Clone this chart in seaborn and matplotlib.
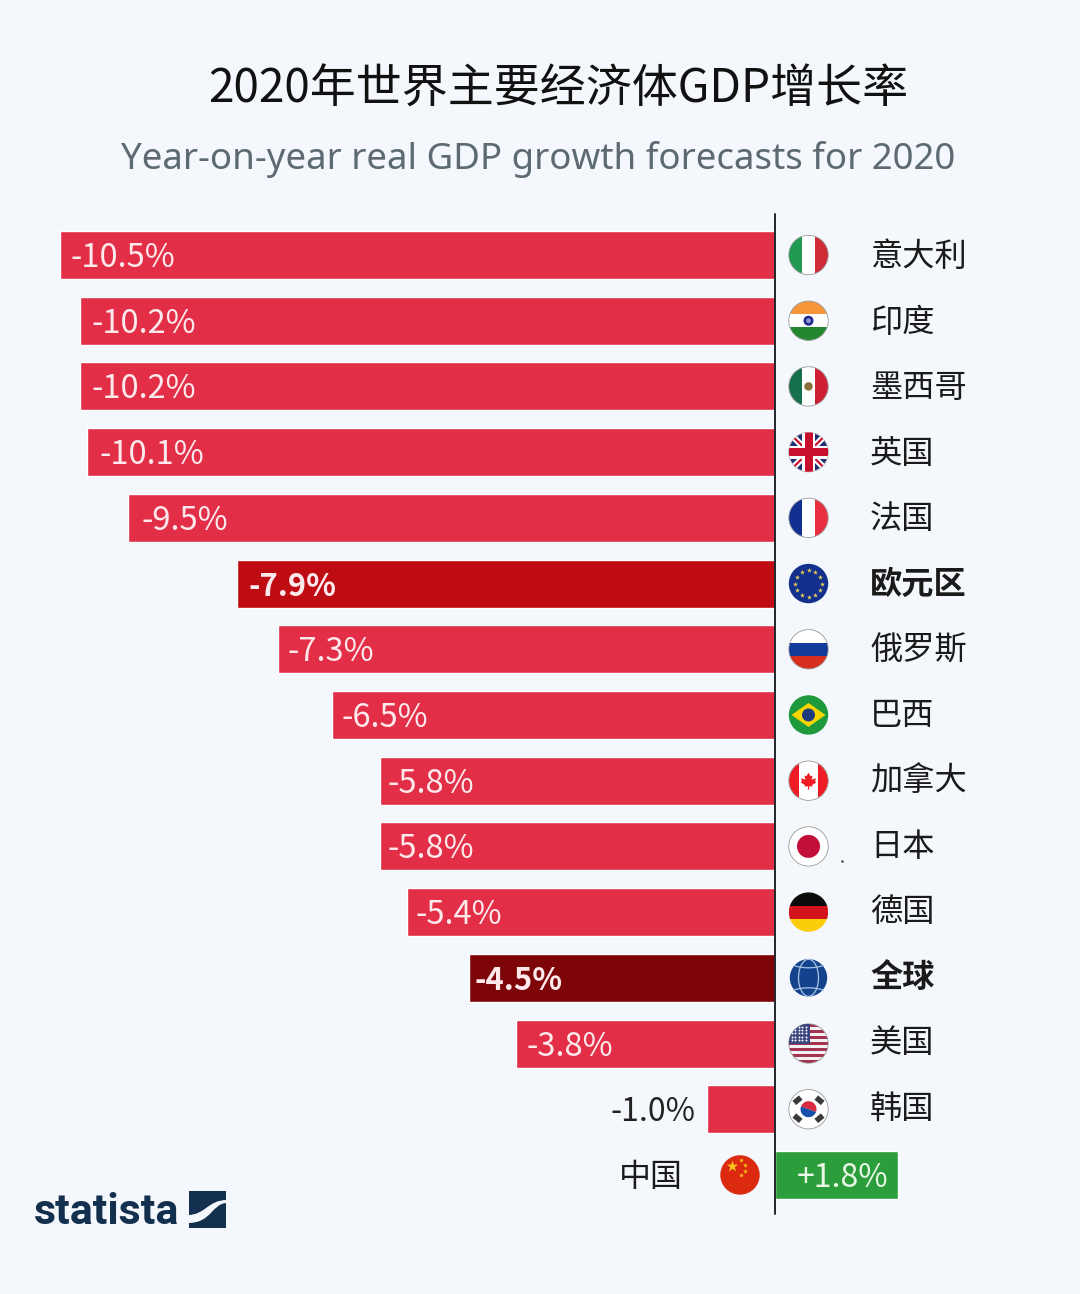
import numpy as np
import pandas as pd
import matplotlib
matplotlib.use('Agg')
import matplotlib.pyplot as plt
import seaborn as sns
from matplotlib.patches import Circle, Rectangle, Polygon, Wedge, Ellipse, PathPatch
from matplotlib.path import Path
from matplotlib.transforms import Affine2D

countries = ['意大利', '印度', '墨西哥', '英国', '法国', '欧元区', '俄罗斯', '巴西',
             '加拿大', '日本', '德国', '全球', '美国', '韩国', '中国']
growth = [-10.5, -10.2, -10.2, -10.1, -9.5, -7.9, -7.3, -6.5, -5.8, -5.8, -5.4, -4.5, -3.8, -1.0, 1.8]
labels = ['-10.5%', '-10.2%', '-10.2%', '-10.1%', '-9.5%', '-7.9%', '-7.3%', '-6.5%', '-5.8%',
          '-5.8%', '-5.4%', '-4.5%', '-3.8%', '-1.0%', '+1.8%']
highlight = ['欧元区', '全球']

BG = '#f4f8fc'
RED = '#e22f47'
colors = {c: RED for c in countries}
colors['欧元区'] = '#bf0c12'
colors['全球'] = '#7d0508'
colors['中国'] = '#2b9e3b'

W, H = 1080, 1294
ZERO_X = 775
PX_PER_UNIT = 68.1
ROW_TOP = 255
ROW_STEP = 65.71
CJK = ['Noto Sans CJK SC', 'DejaVu Sans']
# inner padding of the value labels, px
label_pad = [11, 11, 11, 12, 13, 11, 10, 9, 7, 7, 8, 6, 10]

sns.set_theme(style='white')
plt.rcParams['font.family'] = CJK

fig = plt.figure(figsize=(W / 100, H / 100), dpi=100, facecolor=BG)
ax = fig.add_axes([0, 0, 1, 1])
ax.set_facecolor(BG)

df = pd.DataFrame({'country': countries, 'growth': growth})
sns.barplot(data=df, x='growth', y='country', hue='country', order=countries, hue_order=countries,
            palette=colors, width=0.73, saturation=1, legend=False, dodge=False, ax=ax)
ax.set_xlim(-ZERO_X / PX_PER_UNIT, (W - ZERO_X) / PX_PER_UNIT)
ax.set_ylim((H - ROW_TOP) / ROW_STEP, -ROW_TOP / ROW_STEP)
ax.axis('off')
ax.axvline(0, ymin=1 - 1214 / H, ymax=1 - 214 / H, color='#20262b', lw=1.4, zorder=5)

# overlay in pixel coordinates for flags, logo and header
ov = fig.add_axes([0, 0, 1, 1], facecolor='none')
ov.set_xlim(0, W)
ov.set_ylim(H, 0)
ov.axis('off')

R = 19.7


def clip(cx, cy):
    return Circle((cx, cy), R, transform=ov.transData)


def add(patch, cx, cy):
    ov.add_patch(patch)
    patch.set_clip_path(clip(cx, cy))
    return patch


def stripes(cx, cy, cols, vertical=False):
    n = len(cols)
    for k, c in enumerate(cols):
        s = 2 * R / n
        if vertical:
            add(Rectangle((cx - R + k * s, cy - R), s + 0.4, 2 * R, fc=c, lw=0), cx, cy)
        else:
            add(Rectangle((cx - R, cy - R + k * s), 2 * R, s + 0.4, fc=c, lw=0), cx, cy)


def outline(cx, cy, col='#9a9a9a'):
    ov.add_patch(Circle((cx, cy), R, fc='none', ec=col, lw=0.6))


def flag(name, cx, cy):
    if name == '意大利':
        stripes(cx, cy, ['#1f9a50', 'white', '#cf2b37'], True)
    elif name == '印度':
        stripes(cx, cy, ['#f7953a', 'white', '#23872f'])
        ov.add_patch(Circle((cx, cy), 5, fc='#1d2a8c', lw=0))
        ov.add_patch(Circle((cx, cy), 2.4, fc='#8f96d0', lw=0))
    elif name == '墨西哥':
        stripes(cx, cy, ['#17704c', 'white', '#cf1f33'], True)
        ov.add_patch(Circle((cx, cy), 4.2, fc='#8a6d3b', lw=0))
    elif name == '英国':
        add(Rectangle((cx - R, cy - R), 2 * R, 2 * R, fc='#1c2f72', lw=0), cx, cy)
        for sx in (1, -1):
            l = ov.plot([cx - R * sx, cx + R * sx], [cy - R, cy + R], color='white', lw=4.5)[0]
            l.set_clip_path(clip(cx, cy))
            l = ov.plot([cx - R * sx, cx + R * sx], [cy - R, cy + R], color='#c8102e', lw=1.6)[0]
            l.set_clip_path(clip(cx, cy))
        add(Rectangle((cx - 6.5, cy - R), 13, 2 * R, fc='white', lw=0, zorder=3), cx, cy)
        add(Rectangle((cx - R, cy - 6.5), 2 * R, 13, fc='white', lw=0, zorder=3), cx, cy)
        add(Rectangle((cx - 4, cy - R), 8, 2 * R, fc='#c8102e', lw=0, zorder=3), cx, cy)
        add(Rectangle((cx - R, cy - 4), 2 * R, 8, fc='#c8102e', lw=0, zorder=3), cx, cy)
    elif name == '法国':
        stripes(cx, cy, ['#12308f', 'white', '#ea2f40'], True)
    elif name == '欧元区':
        ov.add_patch(Circle((cx, cy), R, fc='#13308c', lw=0))
        a = np.deg2rad(np.arange(0, 360, 30))
        ov.scatter(cx + 13.5 * np.cos(a), cy + 13.5 * np.sin(a), marker='*', s=14, c='#e8d25a', lw=0, zorder=4)
    elif name == '俄罗斯':
        stripes(cx, cy, ['white', '#123b9c', '#d62f20'])
    elif name == '巴西':
        ov.add_patch(Circle((cx, cy), R, fc='#1e9a3c', lw=0))
        ov.add_patch(Polygon([(cx - 17, cy), (cx, cy - 12), (cx + 17, cy), (cx, cy + 12)], fc='#f6d500', lw=0))
        ov.add_patch(Circle((cx, cy), 6.5, fc='#1c3a7d', lw=0))
    elif name == '加拿大':
        stripes(cx, cy, ['#ee1c25', 'white', 'white', '#ee1c25'], True)
        leaf = [(0, -8), (2, -4.5), (4, -5), (3.2, -1), (7.5, -2.5), (6.5, 0.5), (8, 1.5), (3.5, 4.5),
                (4, 6), (0.6, 5.5), (0.6, 9), (-0.6, 9), (-0.6, 5.5), (-4, 6), (-3.5, 4.5), (-8, 1.5),
                (-6.5, 0.5), (-7.5, -2.5), (-3.2, -1), (-4, -5), (-2, -4.5)]
        ov.add_patch(Polygon([(cx + x, cy + y) for x, y in leaf], fc='#ee1c25', lw=0, zorder=3))
    elif name == '日本':
        ov.add_patch(Circle((cx, cy), R, fc='white', lw=0))
        ov.add_patch(Circle((cx, cy), 11.5, fc='#c20f3a', lw=0))
    elif name == '德国':
        stripes(cx, cy, ['#0b0b0b', '#d3131b', '#fbcd0a'])
    elif name == '全球':
        ov.add_patch(Circle((cx, cy), 18.7, fc='#12438c', lw=0))
        ov.add_patch(Ellipse((cx, cy), 20, 37, fc='none', ec='#a9c4e4', lw=0.9))
        for off in (-23, 23):
            add(Ellipse((cx, cy + off), 52, 26, fc='none', ec='#a9c4e4', lw=0.9), cx, cy)
    elif name == '美国':
        n = 13
        for k in range(n):
            add(Rectangle((cx - R, cy - R + k * 2 * R / n), 2 * R, 2 * R / n + 0.2,
                          fc='#a3334f' if k % 2 == 0 else '#f5f0f2', lw=0), cx, cy)
        add(Rectangle((cx - R, cy - R), 21, 20, fc='#3a4580', lw=0, zorder=3), cx, cy)
        gx, gy = np.meshgrid(np.arange(cx - 17, cx, 3.6), np.arange(cy - 17, cy - 1, 3.4))
        ov.scatter(gx.ravel(), gy.ravel(), s=2, c='white', lw=0, zorder=4)
    elif name == '韩国':
        ov.add_patch(Circle((cx, cy), R, fc='white', lw=0))
        ov.add_patch(Wedge((cx, cy), 8, 200, 380, fc='#d72c3f', lw=0, zorder=3))
        ov.add_patch(Wedge((cx, cy), 8, 20, 200, fc='#1450a8', lw=0, zorder=3))
        for sx, sy, ang in [(-1, -1, -40), (1, -1, 40), (-1, 1, 40), (1, 1, -40)]:
            px, py = cx + sx * 11, cy + sy * 9
            r = Rectangle((px - 4.2, py - 2.8), 8.4, 5.6, fc='#3a3a3a', lw=0, zorder=3)
            r.set_transform(Affine2D().rotate_deg_around(px, py, ang) + ov.transData)
            ov.add_patch(r)
    elif name == '中国':
        ov.add_patch(Circle((cx, cy), R, fc='#db2a10', lw=0))
        ov.scatter([cx - 8], [cy - 9], marker='*', s=75, c='#f8c51c', lw=0, zorder=4)
        ov.scatter([cx + 1, cx + 5, cx + 5, cx + 1], [cy - 15, cy - 10, cy - 4, cy + 0], marker='*', s=14,
                   c='#f8c51c', lw=0, zorder=4)
    if name not in ('欧元区', '全球', '中国', '巴西', '德国'):
        outline(cx, cy)


for i, (name, val, lab) in enumerate(zip(countries, growth, labels)):
    cy = ROW_TOP + i * ROW_STEP
    # the name column sits on a slightly tighter row step than the bars
    ty = cy + 2 - 0.2 * i
    weight = 'bold' if name in highlight else 'normal'
    if name == '中国':
        flag(name, 740, cy)
        ov.text(619, ty + 3, name, fontsize=23, color='#1a1a1a', va='center', ha='left')
        ax.text(val - 9 / PX_PER_UNIT, i + 3 / ROW_STEP, lab, fontsize=23, color='#e9f7e6', va='center', ha='right')
        continue
    flag(name, 808.5, cy)
    ov.text(870, ty, name, fontsize=23.2, color='#1a1a1a', va='center', ha='left', weight=weight)
    if name == '韩国':
        ax.text(val - 11 / PX_PER_UNIT, i + 3 / ROW_STEP, lab, fontsize=23, color='#222222', va='center', ha='right')
    else:
        size = 22.3 if name in highlight else 23.5
        ax.text(val + label_pad[i] / PX_PER_UNIT, i + 3 / ROW_STEP, lab, fontsize=size, color='#fde9ec',
                va='center', ha='left', weight=weight)

ov.text(558, 89, '2020年世界主要经济体GDP增长率', fontsize=33.1, color='#111111', ha='center', va='center',
        weight=500)
ov.text(538, 159, 'Year-on-year real GDP growth forecasts for 2020', fontsize=26.4, color='#5d6a72',
        ha='center', va='center', family=['Noto Sans', 'DejaVu Sans'])

# statista logo
NAVY = '#14304f'
ov.text(34, 1212, 'statista', fontsize=31, color=NAVY, ha='left', va='center', weight='bold',
        family=['Roboto', 'Liberation Sans'])
ov.add_patch(Rectangle((189, 1191), 37, 37, fc=NAVY, lw=0))
wave = Path([(188, 1215), (205, 1215), (208, 1200), (227, 1200), (227, 1203), (212, 1203), (212, 1223), (188, 1223),
             (188, 1215)],
            [Path.MOVETO, Path.CURVE4, Path.CURVE4, Path.CURVE4, Path.LINETO, Path.CURVE4, Path.CURVE4, Path.CURVE4,
             Path.CLOSEPOLY])
ov.add_patch(PathPatch(wave, fc=BG, lw=0))
ov.scatter([842], [861], s=3, c='#333333', lw=0)

fig.savefig('out.png', dpi=100, facecolor=BG)
